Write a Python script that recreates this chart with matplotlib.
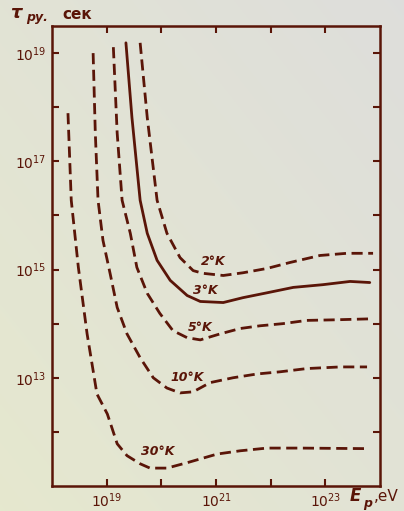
import matplotlib.pyplot as plt
import numpy as np

# log10(E_p, eV) and log10(tau, sec), one pair of lists per temperature
lgE_2 = [19.61, 19.74, 19.92, 20.10, 20.34, 20.58, 20.76, 21.13, 21.49, 21.93, 22.35, 22.90, 23.39, 23.87]
lgT_2 = [19.19, 17.81, 16.28, 15.67, 15.22, 14.98, 14.93, 14.89, 14.94, 15.02, 15.13, 15.26, 15.30, 15.30]

lgE_3 = [19.35, 19.46, 19.61, 19.74, 19.92, 20.16, 20.47, 20.71, 21.13, 21.49, 21.93, 22.41, 22.95, 23.45, 23.81]
lgT_3 = [19.19, 17.81, 16.28, 15.67, 15.17, 14.80, 14.52, 14.41, 14.39, 14.48, 14.57, 14.67, 14.72, 14.78, 14.76]

lgE_5 = [19.12, 19.19, 19.28, 19.43, 19.55, 19.74, 19.97, 20.21, 20.47, 20.71, 21.07, 21.44, 21.80, 22.22, 22.66, 23.14, 23.87]
lgT_5 = [19.11, 17.52, 16.28, 15.67, 15.04, 14.56, 14.19, 13.87, 13.74, 13.70, 13.81, 13.91, 13.96, 14.00, 14.06, 14.07, 14.09]

lgE_10 = [18.75, 18.79, 18.84, 18.93, 19.06, 19.19, 19.37, 19.61, 19.85, 20.10, 20.34, 20.58, 20.89, 21.31,
          21.75, 22.17, 22.66, 23.27, 23.76]
lgT_10 = [19.00, 17.52, 16.28, 15.54, 14.93, 14.30, 13.81, 13.37, 13.00, 12.81, 12.72, 12.74, 12.91, 13.00,
          13.07, 13.11, 13.17, 13.20, 13.20]

lgE_30 = [18.29, 18.35, 18.48, 18.64, 18.82, 19.01, 19.19, 19.37, 19.61, 19.79, 20.10, 20.47, 21.02, 21.44,
          21.93, 22.53, 23.76]
lgT_30 = [17.89, 16.28, 15.04, 13.81, 12.70, 12.33, 11.78, 11.56, 11.41, 11.33, 11.33, 11.43, 11.59, 11.65,
          11.70, 11.70, 11.69]

curve_names = ["2°K", "3°K", "5°K", "10°K", "30°K"]
# where the temperature labels sit (log10 E, log10 tau)
label_pos = [(20.94, 15.15), (20.80, 14.62), (20.71, 13.93), (20.47, 13.00), (19.94, 11.63)]

ink = "#5a1508"

fig = plt.figure(figsize=(4.04, 5.11), dpi=100)

# yellowed paper background
bg = fig.add_axes([0, 0, 1, 1], zorder=-10)
gx, gy = np.meshgrid(np.linspace(0, 1, 200), np.linspace(0, 1, 200))
g = (gx + gy) / 2
c0 = np.array([0.90, 0.91, 0.81])
c1 = np.array([0.87, 0.87, 0.86])
img = c0[None, None, :] * (1 - g[..., None]) + c1[None, None, :] * g[..., None]
bg.imshow(img, origin="lower", extent=[0, 1, 0, 1], aspect="auto")
bg.axis("off")

ax = fig.add_axes([0.129, 0.049, 0.812, 0.900])
ax.patch.set_alpha(0)

series = [(lgE_2, lgT_2), (lgE_3, lgT_3), (lgE_5, lgT_5), (lgE_10, lgT_10), (lgE_30, lgT_30)]
for name, (le, lt) in zip(curve_names, series):
    E = 10 ** np.array(le)
    T = 10 ** np.array(lt)
    if name == "3°K":
        ax.plot(E, T, color=ink, lw=2.0, solid_capstyle="round", solid_joinstyle="round")
    else:
        ax.plot(E, T, color=ink, lw=2.0, ls=(0, (4, 2)), dash_joinstyle="round")

for name, (px, py) in zip(curve_names, label_pos):
    ax.text(10 ** px, 10 ** py, name, color=ink, fontsize=9, style="italic",
            fontweight="bold", ha="center", va="center")

ax.set_xscale("log")
ax.set_yscale("log")
ax.set_xlim(1e18, 1e24)
ax.set_ylim(1e11, 10 ** 19.5)

ax.xaxis.set_minor_locator(plt.NullLocator())
ax.yaxis.set_minor_locator(plt.NullLocator())
ax.set_xticks([10.0 ** k for k in range(19, 24)])
ax.set_xticklabels(["$\\mathit{10^{19}}$", "", "$\\mathit{10^{21}}$", "", "$\\mathit{10^{23}}$"])
ax.set_yticks([10.0 ** k for k in range(12, 20)])
ax.set_yticklabels(["", "$\\mathit{10^{13}}$", "", "$\\mathit{10^{15}}$", "",
                    "$\\mathit{10^{17}}$", "", "$\\mathit{10^{19}}$"])

ax.tick_params(which="both", direction="in", length=5, width=1.5, color=ink,
               labelcolor=ink, labelsize=10, top=True, right=True, pad=4)
for s in ax.spines.values():
    s.set_color(ink)
    s.set_linewidth(1.8)

# axis titles, placed like on the scan
fig.text(0.025, 0.965, "τ", color=ink, fontsize=13, style="italic", fontweight="bold")
fig.text(0.065, 0.958, "ру.", color=ink, fontsize=9, style="italic", fontweight="bold")
fig.text(0.155, 0.963, "сек", color=ink, fontsize=11, fontweight="bold")
fig.text(0.865, 0.020, "E", color=ink, fontsize=12, style="italic", fontweight="bold")
fig.text(0.900, 0.008, "p", color=ink, fontsize=9, style="italic", fontweight="bold")
fig.text(0.925, 0.020, ",eV", color=ink, fontsize=11)

fig.savefig("out.png", dpi=100)
